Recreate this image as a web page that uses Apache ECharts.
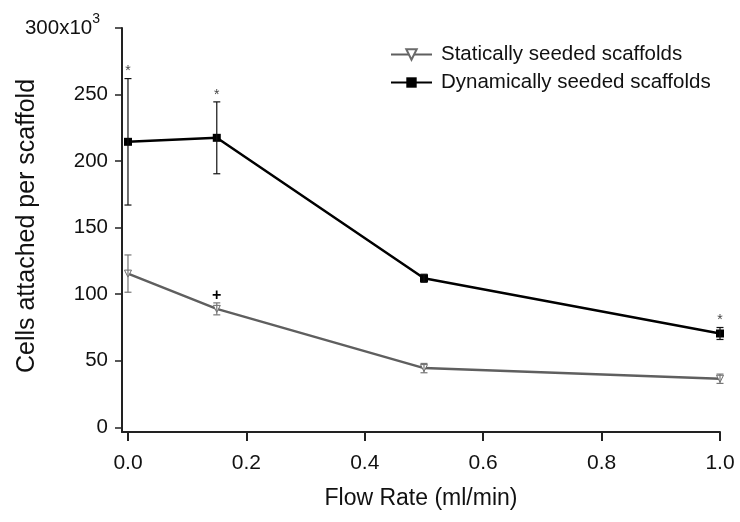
<!DOCTYPE html>
<html>
<head>
<meta charset="utf-8">
<script src="https://cdn.jsdelivr.net/npm/echarts@6/dist/echarts.min.js"></script>
<style>
  html, body { margin: 0; padding: 0; background: #fff; }
  #chart { width: 740px; height: 522px; }
</style>
</head>
<body>
<div id="chart"></div>
<script>
// Flow rates (ml/min) at which the scaffolds were seeded
var flowRate = [0, 0.15, 0.5, 1.0];

// Cells attached per scaffold (x10^3), mean and error
var staticMean = [115.5, 89, 44.5, 36.5];
var staticErr = [14, 4.5, 3.5, 3.5];
var dynamicMean = [214.5, 217.5, 112, 70.5];
var dynamicErr = [47.5, 27, 3, 4.5];

// Significance marks placed above the error bars
var staticMarks = ['', '+', '', ''];
var dynamicMarks = ['*', '*', '', '*'];

// Axis ticks
var xTicks = [0, 0.2, 0.4, 0.6, 0.8, 1.0];
var yTicks = [0, 50, 100, 150, 200, 250, 300];

var seriesNames = ['Statically seeded scaffolds', 'Dynamically seeded scaffolds'];

var FONT = 'Liberation Sans, Arial, sans-serif';
var TEXT = '#111';

function pairs(xs, ys) {
  return xs.map(function (x, i) { return [x, ys[i]]; });
}
function triples(xs, ys, es) {
  return xs.map(function (x, i) { return [x, ys[i], es[i]]; });
}

// Vertical error bar with caps, plus an optional significance mark on top
function errorBarRenderer(marks, color, markColor, markSize, markWeight, markLift) {
  return function (params, api) {
    var x = api.value(0), m = api.value(1), e = api.value(2);
    var mark = marks[params.dataIndex];
    var top = api.coord([x, m + e]);
    var bot = api.coord([x, m - e]);
    var cap = 3.5;
    var stroke = { stroke: color, lineWidth: 1.2 };
    var children = [
      { type: 'line', shape: { x1: top[0], y1: top[1], x2: bot[0], y2: bot[1] }, style: stroke },
      { type: 'line', shape: { x1: top[0] - cap, y1: top[1], x2: top[0] + cap, y2: top[1] }, style: stroke },
      { type: 'line', shape: { x1: bot[0] - cap, y1: bot[1], x2: bot[0] + cap, y2: bot[1] }, style: stroke }
    ];
    if (mark) {
      children.push({
        type: 'text',
        x: top[0], y: top[1] - markLift,
        style: {
          text: mark, fill: markColor, fontSize: markSize, fontWeight: markWeight,
          fontFamily: FONT, align: 'center', verticalAlign: 'bottom'
        }
      });
    }
    return { type: 'group', children: children };
  };
}

var chart = echarts.init(document.getElementById('chart'), null, { renderer: 'canvas' });

chart.setOption({
  backgroundColor: '#fff',
  animation: false,
  grid: { left: 122, right: 20, top: 28, bottom: 90, outerBoundsMode: 'none' },
  legend: {
    orient: 'vertical',
    left: 385,
    top: 39,
    itemWidth: 41,
    itemHeight: 13,
    itemGap: 7,
    data: seriesNames,
    textStyle: { fontFamily: FONT, fontSize: 20.5, color: TEXT, padding: [0, 0, 0, 4] }
  },
  xAxis: {
    type: 'value',
    min: -0.0101,
    max: 1.0,
    name: 'Flow Rate (ml/min)',
    nameLocation: 'middle',
    nameGap: 55,
    nameMoveOverlap: false,
    nameTextStyle: { fontFamily: FONT, fontSize: 23, color: TEXT },
    axisLine: { show: true, onZero: false, lineStyle: { color: '#222', width: 2 } },
    axisTick: { show: true, length: 9, customValues: xTicks, lineStyle: { color: '#222', width: 2 } },
    axisLabel: {
      customValues: xTicks, margin: 21, fontFamily: FONT, fontSize: 21, color: TEXT,
      formatter: function (v) { return v.toFixed(1); }
    },
    splitLine: { show: false }
  },
  yAxis: {
    type: 'value',
    min: -3.5,
    max: 300,
    name: 'Cells attached per scaffold',
    nameLocation: 'middle',
    nameGap: 82,
    nameMoveOverlap: false,
    nameTextStyle: { fontFamily: FONT, fontSize: 25, color: TEXT, padding: [0, 0, 0, 8] },
    axisLine: { show: true, onZero: false, lineStyle: { color: '#222', width: 2 } },
    axisTick: { show: true, length: 7, customValues: yTicks, lineStyle: { color: '#222', width: 1.5 } },
    axisLabel: {
      customValues: yTicks, margin: 14, fontFamily: FONT, fontSize: 20.5, color: TEXT,
      formatter: function (v) { return v === 300 ? '{b|300x10}{s|3}' : String(v); },
      rich: {
        b: { fontFamily: FONT, fontSize: 20.5, color: TEXT, lineHeight: 22, verticalAlign: 'bottom' },
        s: { fontFamily: FONT, fontSize: 14, color: TEXT, lineHeight: 14, verticalAlign: 'bottom', padding: [0, 8, 13, 0] }
      }
    },
    splitLine: { show: false }
  },
  series: [
    {
      name: seriesNames[0],
      type: 'line',
      data: pairs(flowRate, staticMean),
      symbol: 'triangle',
      symbolRotate: 180,
      symbolSize: 7,
      showAllSymbol: true,
      z: 3,
      lineStyle: { color: '#5f5f5f', width: 2.5 },
      itemStyle: { color: '#fff', borderColor: '#6a6a6a', borderWidth: 1 }
    },
    {
      name: seriesNames[1],
      type: 'line',
      data: pairs(flowRate, dynamicMean),
      symbol: 'rect',
      symbolSize: 8,
      z: 4,
      lineStyle: { color: '#000', width: 2.5 },
      itemStyle: { color: '#000', borderColor: '#000', borderWidth: 0 }
    },
    {
      name: 'staticError',
      type: 'custom',
      z: 5,
      data: triples(flowRate, staticMean, staticErr),
      encode: { x: 0, y: 1 },
      renderItem: errorBarRenderer(staticMarks, '#777', '#000', 16, 'bold', -1)
    },
    {
      name: 'dynamicError',
      type: 'custom',
      z: 5,
      data: triples(flowRate, dynamicMean, dynamicErr),
      encode: { x: 0, y: 1 },
      renderItem: errorBarRenderer(dynamicMarks, '#111', '#444', 14, 'normal', 0)
    }
  ]
});
</script>
</body>
</html>
